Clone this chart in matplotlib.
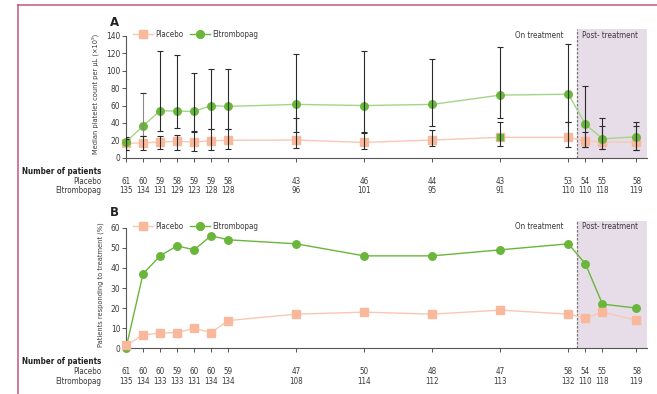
import matplotlib
matplotlib.use("Agg")
import matplotlib.pyplot as plt
from matplotlib.lines import Line2D
from matplotlib.transforms import blended_transform_factory
import matplotlib.font_manager as fm

# ---- data ----------------------------------------------------------------
weeks = [0, 1, 2, 3, 4, 5, 6, 10, 14, 18, 22, 26, 27, 28, 30]

# Panel A: median platelet count (x10^9 per uL) with interquartile ranges
plt_placebo = [16.5, 17.2, 18, 18.8, 18, 19.5, 20, 20.3, 17.6, 20.3, 23.4, 23.4, 19.2, 18, 18]
plt_placebo_hi = [22, 24.5, 25, 26.5, 29.5, 33.5, 33, 46, 28, 32, 40.5, 41, 30, 37, 36]
plt_placebo_lo = [8.5, 9, 10.5, 9, 7.5, 9, 9.5, 11, 10.5, 14, 14, 12.5, 12.5, 9.5, 9]

plt_eltro = [18, 36.4, 54, 53.6, 53.2, 60, 59, 61.3, 60, 61.3, 72, 73, 38.3, 21.8, 24]
plt_eltro_hi = [24, 74, 123, 118, 97, 101.5, 101.5, 119, 123, 113, 127, 131, 83, 46, 41.5]
plt_eltro_lo = [8.5, 25, 31, 34, 31, 33, 32.5, 30, 29.5, 37, 46, 41.5, 12.5, 9.5, 9]

# Panel B: patients responding to treatment (%)
resp_placebo = [1.5, 6.6, 7.6, 7.8, 10, 7.8, 13.8, 17, 18, 17, 19, 17, 15, 18, 14]
resp_eltro = [0, 37, 46, 51, 49, 56, 54, 52, 46, 46, 49, 52, 42, 22, 20]

# Number of patients at each visit
n_a_placebo = [61, 60, 59, 58, 59, 59, 58, 43, 46, 44, 43, 53, 54, 55, 58]
n_a_eltro = [135, 134, 131, 129, 123, 128, 128, 96, 101, 95, 91, 110, 110, 118, 119]
n_b_placebo = [61, 60, 60, 59, 60, 60, 59, 47, 50, 48, 47, 58, 54, 55, 58]
n_b_eltro = [135, 134, 133, 133, 131, 134, 134, 108, 114, 112, 113, 132, 110, 118, 119]

end_of_treatment = 26.5
x_max = 30.6

# ---- style ----------------------------------------------------------------
avail = {f.name for f in fm.fontManager.ttflist}
if "Liberation Sans Narrow" in avail:
    plt.rcParams["font.family"] = ["Liberation Sans Narrow", "DejaVu Sans"]
    FS = 6.5
else:
    plt.rcParams["font.family"] = ["DejaVu Sans"]
    plt.rcParams["font.stretch"] = "condensed"
    FS = 5.8
plt.rcParams["font.size"] = FS

TXT = "#3a3a3a"
PLA_M = "#f9b89c"
PLA_L = "#f8c8b4"
ELT_M = "#69b63a"
ELT_L = "#a5d488"
SHADE = "#e7dde9"
BAR = "#2b2b2b"

W, H = 657, 394
fig = plt.figure(figsize=(W / 100, H / 100), dpi=100)


def fx(px):
    return px / W


def fy(py):
    return 1 - py / H


def make_axes(top_px, bottom_px):
    return fig.add_axes([fx(126), fy(bottom_px), fx(646.7) - fx(126),
                         fy(top_px) - fy(bottom_px)])


def style_axes(ax, ytop, ymax_tick, ystep):
    ax.set_xlim(0, x_max)
    ax.set_ylim(0, ytop)
    for s in ("top", "right"):
        ax.spines[s].set_visible(False)
    ax.spines["left"].set_bounds(0, ymax_tick)
    for s in ("left", "bottom"):
        ax.spines[s].set_color("#555555")
        ax.spines[s].set_linewidth(0.8)
    ax.set_xticks(weeks)
    ax.set_xticklabels([])
    ax.set_yticks(range(0, ymax_tick + 1, ystep))
    ax.tick_params(axis="both", direction="out", length=3, width=0.7,
                   color="#555555", labelcolor=TXT, labelsize=FS + 0.2, pad=1)
    ax.axvspan(end_of_treatment, x_max, color=SHADE, zorder=0, lw=0)
    ax.axvline(end_of_treatment, color="#777777", ls=(0, (2, 1.2)), lw=0.9, zorder=1)
    ax.text(end_of_treatment - 0.8, ytop * 0.955, "On treatment", ha="right",
            va="center", color=TXT, fontsize=FS)
    ax.text(end_of_treatment + 0.3, ytop * 0.955, "Post- treatment", ha="left",
            va="center", color=TXT, fontsize=FS)


def legend(ax):
    handles = [
        Line2D([], [], color=PLA_L, marker="s", mfc=PLA_M, mec=PLA_M, ms=5.8, lw=1),
        Line2D([], [], color=ELT_M, marker="o", mfc=ELT_M, mec=ELT_M, ms=5.6, lw=1),
    ]
    ax.legend(handles, ["Placebo", "Eltrombopag"], loc="upper left",
              bbox_to_anchor=(0.0, 1.05), ncol=2, frameon=False,
              handlelength=2.4, handletextpad=0.3, columnspacing=0.9,
              fontsize=FS, labelcolor=TXT)


def patient_table(ax, y_head, y_pla, y_elt, n_pla, n_elt):
    tr = blended_transform_factory(ax.transData, fig.transFigure)
    fig.text(fx(101), fy(y_head), "Number of patients", ha="right", va="center",
             fontsize=FS, fontweight="bold", color="#222222")
    fig.text(fx(101), fy(y_pla), "Placebo", ha="right", va="center",
             fontsize=FS, color=TXT)
    fig.text(fx(101), fy(y_elt), "Eltrombopag", ha="right", va="center",
             fontsize=FS, color=TXT)
    for w, a, b in zip(weeks, n_pla, n_elt):
        ax.text(w, fy(y_pla), str(a), transform=tr, ha="center", va="center",
                fontsize=FS, color=TXT, clip_on=False)
        ax.text(w, fy(y_elt), str(b), transform=tr, ha="center", va="center",
                fontsize=FS, color=TXT, clip_on=False)


# ---- panel A --------------------------------------------------------------
axA = make_axes(29.3, 157.7)
style_axes(axA, 147.7, 140, 20)

axA.plot(weeks, plt_placebo, color=PLA_L, lw=1.0, zorder=2, clip_on=False)
axA.plot(weeks, plt_placebo, ls="none", marker="s", ms=5.8, mfc=PLA_M, mec=PLA_M,
         zorder=3, clip_on=False)
# the week-22 placebo point is printed in green in the source figure
i22 = weeks.index(22)
axA.plot(weeks[i22], plt_placebo[i22], ls="none", marker="s", ms=4.8, mfc=ELT_M,
         mec=ELT_M, zorder=3)
axA.plot(weeks, plt_eltro, color=ELT_L, lw=1.0, zorder=2, clip_on=False)
axA.plot(weeks, plt_eltro, ls="none", marker="o", ms=5.4, mfc=ELT_M, mec=ELT_M,
         zorder=3, clip_on=False)

for med, hi, lo in ((plt_placebo, plt_placebo_hi, plt_placebo_lo),
                    (plt_eltro, plt_eltro_hi, plt_eltro_lo)):
    err = [[m - l for m, l in zip(med, lo)], [h - m for m, h in zip(med, hi)]]
    eb = axA.errorbar(weeks, med, yerr=err, fmt="none", ecolor=BAR,
                      elinewidth=0.8, capsize=2, capthick=0.8, zorder=4)
    if med is plt_eltro:
        cols = [BAR] * len(weeks)
        cols[1] = "#8a8a8a"
        eb[2][0].set_color(cols)

axA.set_ylabel("Median platelet count per μL (×10⁹)", fontsize=FS - 0.5, color=TXT,
               labelpad=5)
legend(axA)
fig.text(fx(110), fy(22), "A", fontsize=8.5, fontweight="bold", color="#222222",
         va="center", stretch="normal")
patient_table(axA, 171, 181, 190.7, n_a_placebo, n_a_eltro)

# ---- panel B --------------------------------------------------------------
axB = make_axes(220.7, 348.3)
style_axes(axB, 63.5, 60, 10)

axB.plot(weeks, resp_placebo, color=PLA_L, lw=1.0, zorder=2, clip_on=False)
axB.plot(weeks, resp_placebo, ls="none", marker="s", ms=5.8, mfc=PLA_M, mec=PLA_M,
         zorder=4, clip_on=False)
axB.plot(weeks, resp_eltro, color=ELT_M, lw=1.0, zorder=2, clip_on=False)
axB.plot(weeks, resp_eltro, ls="none", marker="o", ms=5.4, mfc=ELT_M, mec=ELT_M,
         zorder=3, clip_on=False)

axB.set_ylabel("Patients responding to treatment (%)", fontsize=FS - 0.5, color=TXT,
               labelpad=5)
legend(axB)
fig.text(fx(110), fy(212.5), "B", fontsize=8.5, fontweight="bold", color="#222222",
         va="center", stretch="normal")
patient_table(axB, 361.3, 371, 381, n_b_placebo, n_b_eltro)

# ---- outer frame line ------------------------------------------------------
frame = "#c4557c"
fig.add_artist(Line2D([fx(18), 1], [fy(5), fy(5)], transform=fig.transFigure,
                      color=frame, lw=1.1))
fig.add_artist(Line2D([fx(18), fx(18)], [fy(5), 0], transform=fig.transFigure,
                      color=frame, lw=1.1))

fig.savefig("out.png", dpi=100)
